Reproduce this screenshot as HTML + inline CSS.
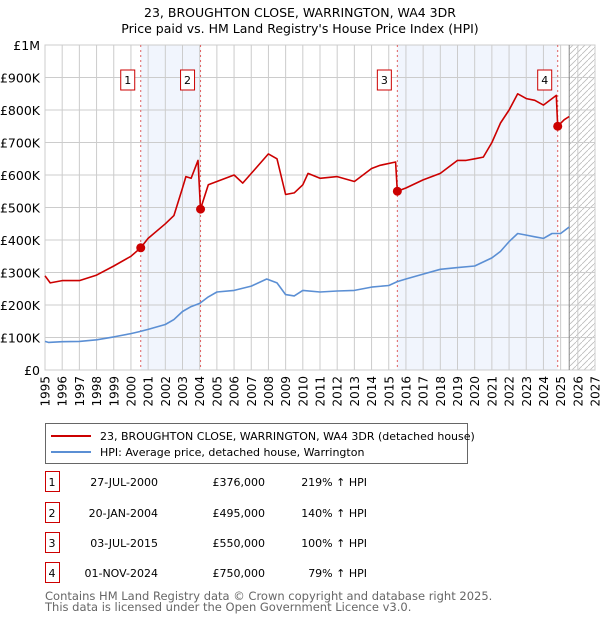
<!DOCTYPE html>
<html><head><meta charset="utf-8"><style>
body{margin:0;background:#fff;font-family:"Liberation Sans","DejaVu Sans",sans-serif;}
svg text{font-family:"DejaVu Sans","Liberation Sans",sans-serif;}
</style></head><body>
<svg id="chart" width="600" height="620" viewBox="0 0 600 620">
<text x="300" y="17" text-anchor="middle" font-size="12.5" fill="#000">23, BROUGHTON CLOSE, WARRINGTON, WA4 3DR</text>
<text x="300" y="33" text-anchor="middle" font-size="12.5" fill="#000">Price paid vs. HM Land Registry's House Price Index (HPI)</text>
<g id="plot"></g>
<g>
<rect x="45.5" y="423.5" width="422" height="40" fill="#fff" stroke="#666"/>
<line x1="51" y1="436" x2="91" y2="436" stroke="#cc0000" stroke-width="2"/>
<text x="100" y="440" font-size="11">23, BROUGHTON CLOSE, WARRINGTON, WA4 3DR (detached house)</text>
<line x1="51" y1="452" x2="91" y2="452" stroke="#5b8fd4" stroke-width="2"/>
<text x="100" y="456" font-size="11">HPI: Average price, detached house, Warrington</text>
</g>
<g id="table"></g>
<text x="45" y="600" font-size="11.5" fill="#666">Contains HM Land Registry data © Crown copyright and database right 2025.</text>
<text x="45" y="611" font-size="11.5" fill="#666">This data is licensed under the Open Government Licence v3.0.</text>
</svg>
<script>
const hpiYears=[1995,1995.2,1996,1997,1998,1999,2000,2000.5,2001,2002,2002.5,2003,2003.5,2004,2004.5,2005,2006,2007,2007.9,2008.5,2009,2009.5,2010,2011,2012,2013,2014,2015,2015.5,2016,2017,2018,2019,2020,2021,2021.5,2022,2022.5,2023,2023.5,2024,2024.5,2025,2025.5];
const hpiValues=[88,85,87,88,93,102,112,118,125,140,155,180,195,205,225,240,245,258,280,268,232,228,245,240,243,245,255,260,272,280,295,310,315,320,345,365,395,420,415,410,405,420,420,440];
const propYears=[1995,1995.3,1996,1997,1998,1999,2000,2000.57,2001,2002,2002.5,2003,2003.2,2003.5,2003.9,2004.05,2004.5,2005,2006,2006.5,2007,2008,2008.5,2009,2009.5,2010,2010.3,2011,2012,2013,2014,2014.5,2015.4,2015.5,2016,2017,2018,2019,2019.5,2020,2020.5,2021,2021.5,2022,2022.5,2023,2023.5,2024,2024.75,2024.83,2025.2,2025.5];
const propValues=[290,268,275,275,292,320,350,376,405,450,475,560,595,590,645,495,570,580,600,575,605,665,650,540,545,570,605,590,595,580,620,630,640,550,560,585,605,645,645,650,655,700,760,800,850,835,830,815,845,750,770,780];
const saleYears=[2000.57,2004.05,2015.5,2024.83];
const saleValues=[376,495,550,750];
const saleLabels=["1","2","3","4"];
const saleDates=["27-JUL-2000","20-JAN-2004","03-JUL-2015","01-NOV-2024"];
const salePrices=["£376,000","£495,000","£550,000","£750,000"];
const salePct=["219% ↑ HPI","140% ↑ HPI","100% ↑ HPI","79% ↑ HPI"];
const yTicks=[0,100,200,300,400,500,600,700,800,900,1000];
const yTickLabels=["£0","£100K","£200K","£300K","£400K","£500K","£600K","£700K","£800K","£900K","£1M"];
const xTicks=[1995,1996,1997,1998,1999,2000,2001,2002,2003,2004,2005,2006,2007,2008,2009,2010,2011,2012,2013,2014,2015,2016,2017,2018,2019,2020,2021,2022,2023,2024,2025,2026,2027];

const NS="http://www.w3.org/2000/svg";
const L=45,R=595,T=45,B=370,X0=1995,X1=2027,HATCH=2025.5;
const xs=v=>L+(v-X0)/(X1-X0)*(R-L);
const ys=v=>B-v/1000*(B-T);
const plot=document.getElementById('plot');
function mk(tag,attrs,parent){const e=document.createElementNS(NS,tag);for(const k in attrs)e.setAttribute(k,attrs[k]);(parent||plot).appendChild(e);return e;}

const defs=mk('defs',{});
const pat=mk('pattern',{id:'hatch',width:'6',height:'6',patternUnits:'userSpaceOnUse'},defs);
mk('path',{d:'M0,6 L6,0',stroke:'#bbb','stroke-width':'0.8'},pat);

mk('rect',{x:L,y:T,width:R-L,height:B-T,fill:'#fff'});
// shading between sales
[[0,1],[2,3]].forEach(p=>{
 const r=mk('rect',{x:xs(saleYears[p[0]]),y:T,width:xs(saleYears[p[1]])-xs(saleYears[p[0]]),height:B-T,fill:'#eef3fd',opacity:'0.8'});
 
 
});
const h=mk('rect',{x:xs(HATCH),y:T,width:R-xs(HATCH),height:B-T,fill:'url(#hatch)'});



yTicks.forEach((t,i)=>{
 mk('line',{x1:L,x2:R,y1:ys(t),y2:ys(t),stroke:'#ccc','stroke-width':'1'});
 const tx=mk('text',{x:L-5,y:ys(t)+5,'text-anchor':'end','font-size':'12.5',fill:'#000'});
 tx.textContent=yTickLabels[i];
 
 
});
xTicks.forEach(t=>{
 mk('line',{x1:xs(t),x2:xs(t),y1:T,y2:B,stroke:'#ccc','stroke-width':'1'});
 const tx=mk('text',{x:0,y:0,'text-anchor':'end','font-size':'12',fill:'#000',transform:`translate(${xs(t)+4.5},376) rotate(-90)`});
 tx.textContent=t;
 
 
});
mk('rect',{x:L,y:T,width:R-L,height:B-T,fill:'none',stroke:'#ccc'});
mk('line',{x1:xs(HATCH),x2:xs(HATCH),y1:T,y2:B,stroke:'#888','stroke-width':'1'});

saleYears.forEach((s,i)=>{
 const l=mk('line',{x1:xs(s),x2:xs(s),y1:T,y2:B,stroke:'#e06060','stroke-width':'1','stroke-dasharray':'2,3'});
 
 
});

function path(xsArr,vArr,color,name){
 const d=xsArr.map((x,i)=>(i?'L':'M')+xs(x).toFixed(1)+','+ys(vArr[i]).toFixed(1)).join(' ');
 const p=mk('path',{d:d,fill:'none',stroke:color,'stroke-width':'1.6','stroke-linejoin':'round'});
 
 
}
path(hpiYears,hpiValues,'#5b8fd4','hpi-line');
path(propYears,propValues,'#cc0000','property-line');

saleYears.forEach((s,i)=>{
 const c=mk('circle',{cx:xs(s),cy:ys(saleValues[i]),r:'4.5',fill:'#cc0000'});
 
 
 const g=mk('g',{});
 
 
 mk('rect',{x:xs(s)-20,y:70,width:14,height:20,fill:'#fff',stroke:'#cc0000'},g);
 const t=mk('text',{x:xs(s)-13,y:84,'text-anchor':'middle','font-size':'11'},g);
 t.textContent=saleLabels[i];
});

const tbl=document.getElementById('table');
const rowY=[482,513,543,573];
saleLabels.forEach((lab,i)=>{
 const y=rowY[i];
 mk('rect',{x:45.5,y:y-10.5,width:14,height:20,fill:'#fff',stroke:'#cc0000'},tbl);
 const cells=[[52,'middle',lab,'row-number'],[158,'end',saleDates[i],'sale-date'],[265,'end',salePrices[i],'sale-price'],[367,'end',salePct[i],'sale-hpi-change']];
 cells.forEach(c=>{
  const t=mk('text',{x:c[0],y:y+4,'text-anchor':c[1],'font-size':'11'},tbl);
  t.textContent=c[2];
  
  
 });
});
</script>
</body></html>
